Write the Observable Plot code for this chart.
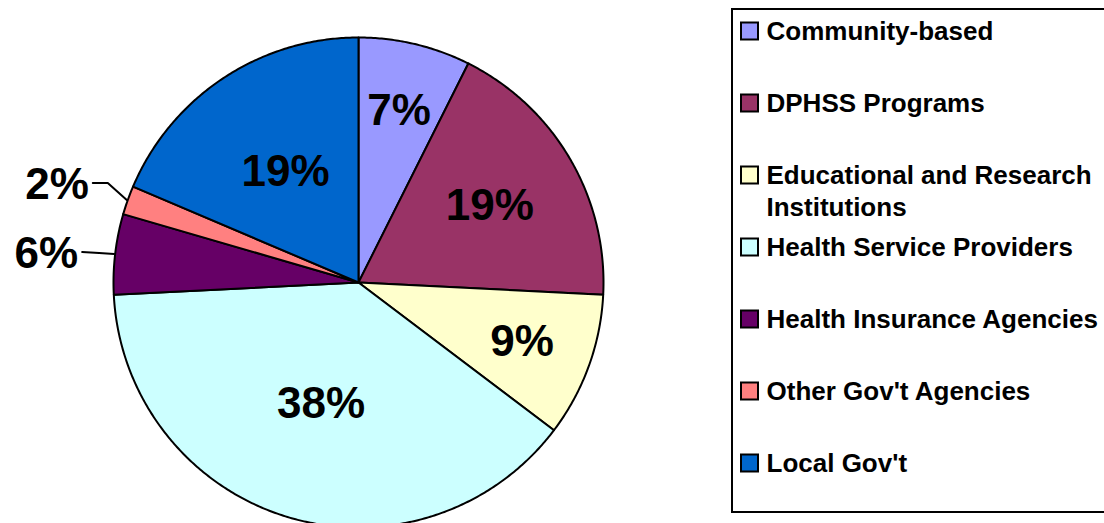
<!DOCTYPE html>
<html><head><meta charset="utf-8">
<script src="https://cdn.jsdelivr.net/npm/d3@7"></script>
<script src="https://cdn.jsdelivr.net/npm/@observablehq/plot@0.6"></script>
<style>body{margin:0;background:#fff}#chart svg{display:block}</style>
</head><body><div id="chart"></div>
<script>
const categories = ["Community-based","DPHSS Programs","Educational and Research\nInstitutions","Health Service Providers","Health Insurance Agencies","Other Gov't Agencies","Local Gov't"];
const shares = [7.4, 18.4, 9.5, 38.9, 5.3, 1.9, 18.6];
const pctLabels = ["7%","19%","9%","38%","6%","2%","19%"];
const colors = ["#9999FF","#993366","#FFFFCC","#CCFFFF","#660066","#FF8080","#0066CC"];

// layout
const W = 1104, H = 523, cx = 358, cy = 282, R = 245;
const labelRadius = [0.72, 0.62, 0.71, 0.52, null, null, 0.54]; // fraction of R; null = outside label
const leaderOffsets = {4: [[-15, -1], [-32, -2]], 5: [[-19, -17], [-34, -17]]}; // elbow, end relative to edge
const font = "'Liberation Sans', Arial, Helvetica, sans-serif";

const total = d3.sum(shares);
let cum = 0;
const slices = shares.map((v, i) => {
  const a0 = cum / total * 2 * Math.PI;
  cum += v;
  const a1 = cum / total * 2 * Math.PI;
  return {i, name: categories[i], color: colors[i], a0, a1, mid: (a0 + a1) / 2};
});
const pt = (a, r) => [cx + r * Math.sin(a), cy - r * Math.cos(a)];

// slice outlines
const piePts = [];
for (const s of slices) {
  const n = Math.max(4, Math.ceil((s.a1 - s.a0) / (Math.PI / 360)));
  piePts.push({k: s.i, color: s.color, p: [cx, cy]});
  for (let j = 0; j <= n; j++) piePts.push({k: s.i, color: s.color, p: pt(s.a0 + (s.a1 - s.a0) * j / n, R)});
  piePts.push({k: s.i, color: s.color, p: [cx, cy]});
}

// labels
const inLabels = [], outLabels = [], leaders = [];
for (const s of slices) {
  const lr = labelRadius[s.i];
  if (lr != null) {
    const [x, y] = pt(s.mid, lr * R);
    inLabels.push({x, y, text: pctLabels[s.i]});
  } else {
    const e = pt(s.mid, R + 1);
    const [o1, o2] = leaderOffsets[s.i];
    const el = [e[0] + o1[0], e[1] + o1[1]];
    const end = [e[0] + o2[0], e[1] + o2[1]];
    leaders.push({k: s.i, p: e}, {k: s.i, p: el}, {k: s.i, p: end});
    outLabels.push({x: end[0] - 4, y: end[1] + 2, text: pctLabels[s.i]});
  }
}

// legend
const lgX = 741, lgY0 = 31, lgStep = 72, lgSw = 17;
const lgItems = slices.map((s, i) => ({color: s.color, y: lgY0 + i * lgStep}));
const lgText = [];
slices.forEach((s, i) => s.name.split("\n").forEach((line, j) => lgText.push({text: line, y: lgY0 + i * lgStep + j * 32})));

const chart = Plot.plot({
  width: W, height: H, margin: 0,
  x: {domain: [0, W], range: [0, W], axis: null},
  y: {domain: [0, H], range: [0, H], axis: null},
  color: {type: "identity"},
  style: {fontFamily: font, background: "white"},
  marks: [
    Plot.line(piePts, {x: d => d.p[0], y: d => d.p[1], z: "k", fill: "color", stroke: "black", strokeWidth: 2, strokeLinejoin: "round"}),
    Plot.line(leaders, {x: d => d.p[0], y: d => d.p[1], z: "k", stroke: "black", strokeWidth: 2}),
    Plot.text(inLabels, {x: "x", y: "y", text: "text", fontSize: 44, fontWeight: "bold", fill: "black", fontFamily: font}),
    Plot.text(outLabels, {x: "x", y: "y", text: "text", fontSize: 44, fontWeight: "bold", fill: "black", textAnchor: "end", fontFamily: font}),
    Plot.rect([0], {x1: () => 732, x2: () => 1112, y1: () => 9, y2: () => 512, fill: "white", stroke: "black", strokeWidth: 2}),
    Plot.rect(lgItems, {x1: () => lgX, x2: () => lgX + lgSw, y1: d => d.y - lgSw / 2, y2: d => d.y + lgSw / 2, fill: "color", stroke: "black", strokeWidth: 2}),
    Plot.text(lgText, {x: () => lgX + lgSw + 8, y: "y", text: "text", textAnchor: "start", fontSize: 26, fontWeight: "bold", fill: "black", fontFamily: font})
  ]
});
document.getElementById("chart").appendChild(chart);
</script>
</body></html>
